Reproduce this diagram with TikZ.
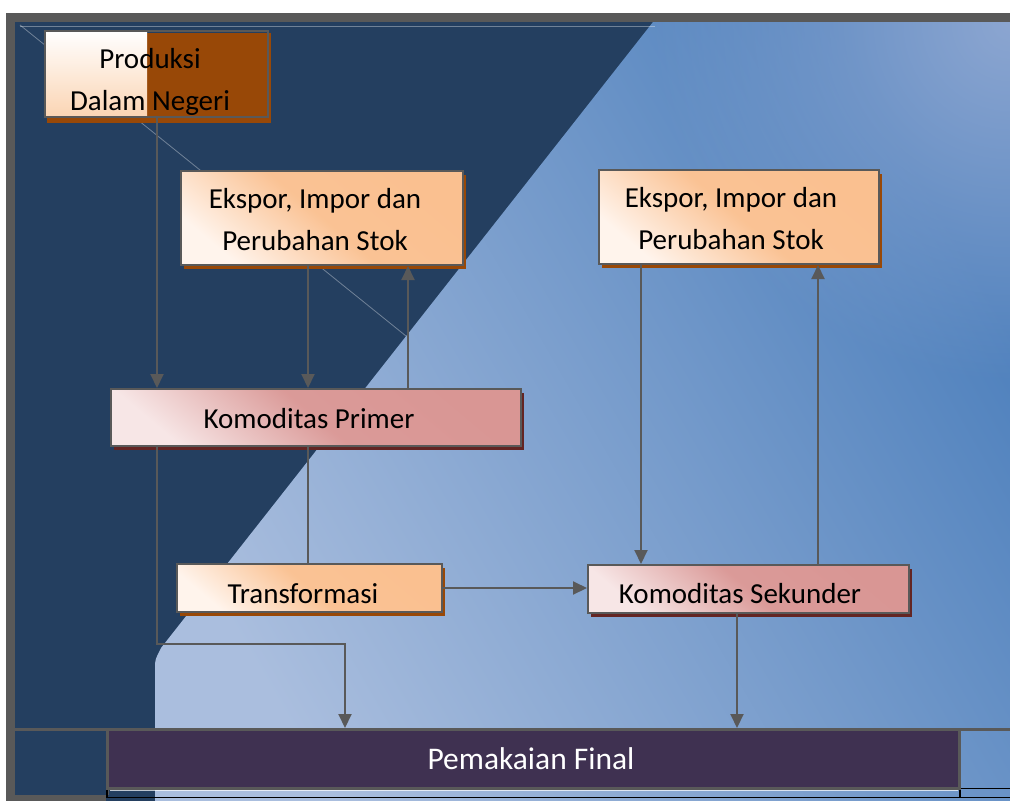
\documentclass[tikz,border=0pt]{standalone}
\usepackage{fontspec}
\setmainfont{Carlito}
\usetikzlibrary{arrows.meta,shadows,fadings}
\definecolor{navy}{HTML}{243F60}
\definecolor{bgray}{HTML}{595959}
\definecolor{purp}{HTML}{3F3151}
\definecolor{shbrown}{HTML}{984807}
\definecolor{shred}{HTML}{632523}
\definecolor{peach}{HTML}{FAC090}
\definecolor{peachlt}{HTML}{FFF4EC}
\definecolor{peachbt}{HTML}{FBD4B3}
\definecolor{pinkc}{HTML}{D99694}
\definecolor{pinklt}{HTML}{F7E6E6}
\definecolor{bluedk}{HTML}{4F81BD}
\definecolor{bluemid}{HTML}{5A86C1}
\definecolor{bluelt}{HTML}{AABEDE}
\definecolor{bluetr}{HTML}{8CA6D1}
\tikzfading[name=radfade, inner color=transparent!0, outer color=transparent!100]
\newcommand{\boxtext}[3]{\raisebox{#1}[\height][\depth]{\begin{tabular}{@{}c@{\hspace{#2}}}#3\end{tabular}}}
\begin{document}
\begin{tikzpicture}[x=1pt,y=-1pt,
  box/.style={draw=bgray, line width=2pt, inner sep=0pt, font=\fontsize{29}{42}\selectfont},
  peachbox/.style={box, top color=peach, bottom color=peachlt, middle color=peach!96!white, shading angle=-40,
    general shadow={fill=shbrown, shadow xshift=3pt, shadow yshift=-4pt}},
  pinkbox/.style={box, top color=pinkc, bottom color=pinklt, middle color=pinkc!96!white, shading angle=-40,
    general shadow={fill=shred, shadow xshift=3pt, shadow yshift=-4pt}},
  conn/.style={draw=bgray, line width=2pt},
  arr/.style={conn, -{Triangle[length=14pt,width=13pt]}},
  faint/.style={draw=white, opacity=0.35, line width=0.8pt}
]
\useasboundingbox (0,0) rectangle (1010,801);
\fill[white] (0,0) rectangle (1010,801);
% frame and dark background
\fill[navy] (15,22) rectangle (1010,801);
\fill[bgray] (6,13) rectangle (1010,22);
\fill[bgray] (6,13) rectangle (15,801);
\fill[bgray] (6,795) rectangle (106,801);
% light blue region
\def\bluereg{(653,22) -- (1010,22) -- (1010,801) -- (155,801) -- (155,668) .. controls (155,660) .. (161,648) -- cycle}
\shade[top color=bluedk, middle color=bluemid, bottom color=bluelt, shading angle=-60] \bluereg;
\begin{scope}
\clip \bluereg;
\fill[bluetr, path fading=radfade] (1010,22) circle (360pt);
\end{scope}
% faint lines
\draw[faint] (20,26) -- (655,26);
\draw[faint] (20,25) -- (406,336);
% table lines at bottom
\draw[bgray, line width=3pt] (15,729.5) -- (1010,729.5);
\draw[bgray, line width=3pt] (107.5,729) -- (107.5,795);
\draw[black, line width=1.5pt] (107,788) -- (107,797.5) -- (1010,797.5);
\draw[black, line width=1.5pt] (960,797) -- (960,788.5) -- (1010,788.5);
\draw[white, opacity=0.7, line width=0.8pt] (110,790.5) -- (958,790.5);
% Produksi box background
\fill[shbrown] (47,33) rectangle (271,123);
\shade[top color=white, bottom color=peachbt] (45,31) rectangle (147,117);
% nodes
\node[box] (prod) at (156.5,74) [minimum width=223pt, minimum height=86pt] {\boxtext{-6.6pt}{13pt}{Produksi\\Dalam Negeri}};
\node[peachbox, minimum width=282pt, minimum height=94pt] (ek1) at (322,218) {\boxtext{-2.6pt}{14pt}{Ekspor, Impor dan\\Perubahan Stok}};
\node[peachbox, minimum width=280pt, minimum height=94pt] (ek2) at (739,217) {\boxtext{-3.1pt}{16pt}{Ekspor, Impor dan\\Perubahan Stok}};
\node[pinkbox, minimum width=410pt, minimum height=57pt] (kp) at (316,417.5) {\boxtext{-2.1pt}{14pt}{Komoditas Primer}};
\node[peachbox, minimum width=265pt, minimum height=48pt] (tr) at (309.5,588) {\boxtext{-6.6pt}{13pt}{Transformasi}};
\node[pinkbox, minimum width=321pt, minimum height=48pt] (ks) at (748.5,589) {\boxtext{-5.6pt}{17pt}{Komoditas Sekunder}};
\node[box, line width=3pt, fill=purp, text=white, font=\fontsize{31.5}{42}\selectfont, minimum width=852pt, minimum height=58.5pt] (pf) at (533.5,758.75) {\boxtext{-2pt}{5pt}{Pemakaian Final}};
% connector x positions
\coordinate (xa) at (157,0);
\coordinate (xb) at (308,0);
\coordinate (xc) at (408,0);
\coordinate (xd) at (641,0);
\coordinate (xe) at (818,0);
\coordinate (xf) at (737,0);
\coordinate (bend) at (345,644);
% connectors
\draw[arr] (prod.south -| xa) -- (kp.north -| xa);
\draw[arr] (ek1.south -| xb) -- (kp.north -| xb);
\draw[arr] (kp.north -| xc) -- (ek1.south -| xc);
\draw[conn] (kp.south -| xb) -- (tr.north -| xb);
\draw[arr] (kp.south -| xa) |- (bend) -- (pf.north -| bend);
\draw[arr] (tr.east) -- (tr.east -| ks.west);
\draw[arr] (ek2.south -| xd) -- (ks.north -| xd);
\draw[arr] (ks.north -| xe) -- (ek2.south -| xe);
\draw[arr] (ks.south -| xf) -- (pf.north -| xf);
\end{tikzpicture}
\end{document}
